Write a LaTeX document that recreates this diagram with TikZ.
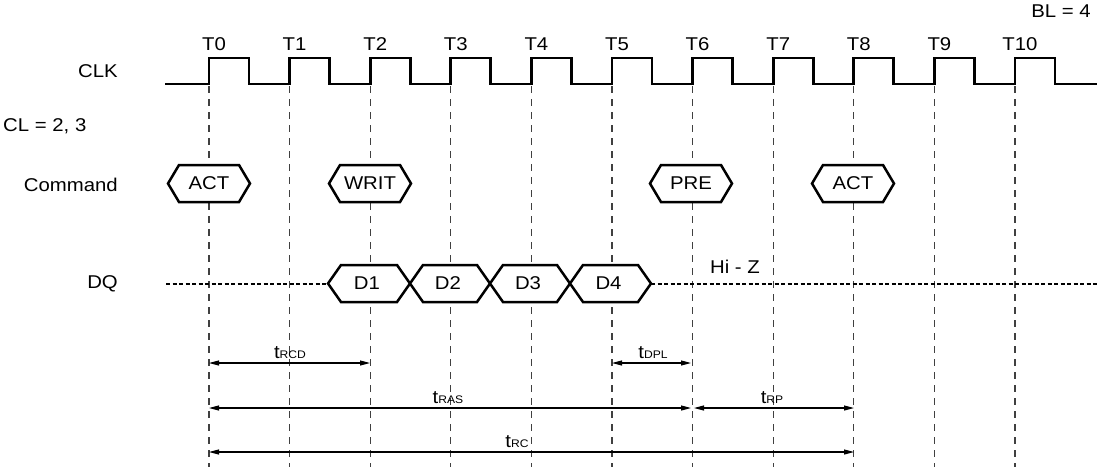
\documentclass[tikz,border=0pt]{standalone}
\usepackage{fontspec}
\setmainfont[FakeStretch=1.1]{Liberation Sans}
\usetikzlibrary{arrows.meta}
\newcommand\tsub[1]{t{\fontsize{11}{13}\selectfont #1}}
\begin{document}
\begin{tikzpicture}[x=1pt,y=-1pt,
  lbl/.style={font=\fontsize{18.5}{22}\selectfont, inner sep=0pt},
  gridline/.style={black!75, line width=1.1pt, dash pattern=on 7pt off 6pt},
  wave/.style={line width=2.8pt, line join=miter},
  cell/.style={draw=black, line width=2.5pt, fill=white, line join=miter},
  hiz/.style={line width=2.8pt, dash pattern=on 4pt off 2.5pt},
  dim/.style={line width=1.1pt, {Triangle[length=10pt,width=5pt]}-{Triangle[length=10pt,width=5pt]}}]
\useasboundingbox (0,0) rectangle (1097,467);

% vertical grid lines at rising edges
\foreach \i in {0,...,10}{
  \coordinate (top\i) at (209+80.6*\i,86);
  \coordinate (bot\i) at (209+80.6*\i,467);
  \draw[gridline] (top\i) -- (bot\i);
  \node[lbl] (T\i) at (214+80.6*\i,44) {T\i};
}

% clock
\draw[wave] (165,84) \foreach \i in {0,...,10}{ -- (209+80.6*\i,84) -- ++(0,-26) -- ++(40,0) -- ++(0,26)} -- (1097,84);

% left labels
\node[lbl, anchor=east] (clk) at (118,71) {CLK};
\node[lbl, anchor=west] (cl) at (3,126) {CL = 2, 3};
\node[lbl, anchor=east] (cmd) at (118,185) {Command};
\node[lbl, anchor=east] (dq) at (118,284) {DQ};
\node[lbl] (bl) at (1061,11) {BL = 4};
\node[lbl] (hiz) at (735,267) {Hi - Z};

% command hexagons
\foreach \c/\t/\n in {209/ACT/act1, 370/WRIT/writ, 691/PRE/pre, 853/ACT/act2}{
  \path[cell] (\c-41,183.5) -- (\c-30,165) -- (\c+30,165) -- (\c+41,183.5) -- (\c+30,202) -- (\c-30,202) -- cycle;
  \node[lbl] (\n) at (\c,183.5) {\t};
}

% DQ line
\coordinate (dqA) at (166,284);
\coordinate (dqB) at (328,284);
\coordinate (dqC) at (651,284);
\coordinate (dqD) at (1097,284);
\draw[hiz] (dqA) -- (dqB);
\draw[hiz] (dqC) -- (dqD);

% data cells
\foreach \a/\b/\t in {328/410/D1, 410/490/D2, 490/570/D3, 570/651/D4}{
  \path[cell] (\a,283.5) -- (\a+13,265) -- (\b-13,265) -- (\b,283.5) -- (\b-13,302) -- (\a+13,302) -- cycle;
  \node[lbl] (\t) at ({(\a+\b)/2-2},283.5) {\t};
}

% timing dimensions
\coordinate (rcdL) at (209,363); \coordinate (rcdR) at (370,363);
\coordinate (dplL) at (612,363); \coordinate (dplR) at (691,363);
\coordinate (rasL) at (209,408); \coordinate (rasR) at (691,408);
\coordinate (rpL) at (694,408); \coordinate (rpR) at (854,408);
\coordinate (rcL) at (209,452); \coordinate (rcR) at (854,452);
\draw[dim] (rcdL) -- (rcdR);
\draw[dim] (dplL) -- (dplR);
\draw[dim] (rasL) -- (rasR);
\draw[dim] (rpL) -- (rpR);
\draw[dim] (rcL) -- (rcR);
\node[lbl, anchor=base] (trcd) at (290,358) {\tsub{RCD}};
\node[lbl, anchor=base] (tdpl) at (653,358) {\tsub{DPL}};
\node[lbl, anchor=base] (tras) at (448,403) {\tsub{RAS}};
\node[lbl, anchor=base] (trp) at (772,403) {\tsub{RP}};
\node[lbl, anchor=base] (trc) at (517,447) {\tsub{RC}};
\end{tikzpicture}
\end{document}
